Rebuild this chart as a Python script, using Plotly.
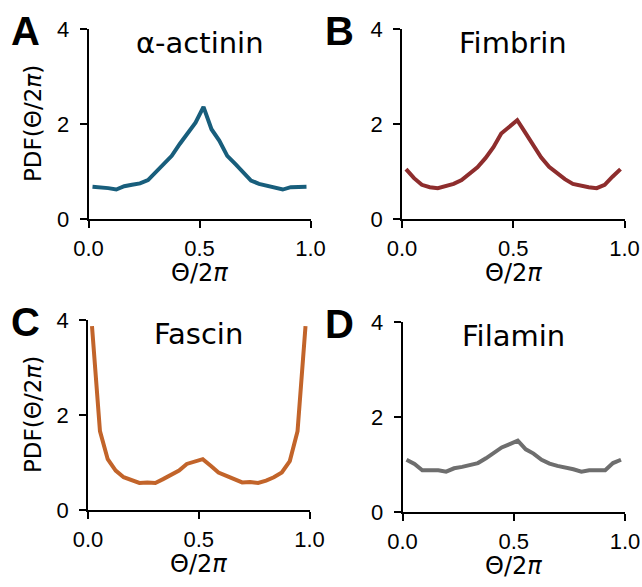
import plotly.graph_objects as go

# bin centres of the angle histogram (Theta / 2pi), 28 bins
theta = [0.018, 0.054, 0.089, 0.125, 0.161, 0.196, 0.232, 0.268, 0.304, 0.339,
         0.375, 0.411, 0.446, 0.482, 0.518, 0.554, 0.589, 0.625, 0.661, 0.696,
         0.732, 0.768, 0.804, 0.839, 0.875, 0.911, 0.946, 0.982]

pdf_actinin = [0.68, 0.67, 0.65, 0.62, 0.69, 0.72, 0.75, 0.82, 1.00, 1.17,
               1.33, 1.58, 1.79, 2.03, 2.36, 1.89, 1.65, 1.33, 1.16, 0.98,
               0.81, 0.74, 0.70, 0.68, 0.62, 0.67, 0.68, 0.68]
pdf_fimbrin = [1.05, 0.86, 0.72, 0.67, 0.65, 0.69, 0.74, 0.82, 0.96, 1.09,
               1.28, 1.51, 1.80, 1.93, 2.08, 1.82, 1.56, 1.30, 1.10, 0.96,
               0.84, 0.74, 0.70, 0.67, 0.65, 0.72, 0.89, 1.05]
pdf_fascin = [3.87, 1.66, 1.07, 0.83, 0.69, 0.62, 0.57, 0.58, 0.57, 0.65,
              0.74, 0.83, 0.97, 1.01, 1.07, 0.93, 0.79, 0.72, 0.65, 0.58,
              0.59, 0.57, 0.62, 0.69, 0.79, 1.03, 1.66, 3.87]
pdf_filamin = [1.10, 1.01, 0.88, 0.88, 0.88, 0.85, 0.92, 0.95, 0.99, 1.03,
               1.13, 1.25, 1.36, 1.43, 1.50, 1.32, 1.23, 1.10, 1.02, 0.97,
               0.94, 0.90, 0.85, 0.88, 0.88, 0.88, 1.03, 1.10]

names = ["α-actinin", "Fimbrin", "Fascin", "Filamin"]
letters = ["A", "B", "C", "D"]
series = [pdf_actinin, pdf_fimbrin, pdf_fascin, pdf_filamin]
colors = ["#185E7C", "#8E2D2D", "#C2642A", "#6E6E6E"]

# figure fills the whole window (body margin is removed below)
W, H = 642, 587

# plot boxes in pixels: left, right, top, bottom
boxes = [(88.5, 310.5, 29, 219), (402, 624.5, 29, 219),
         (88, 309.5, 320, 510), (402.5, 625, 322, 512)]

TICKFONT = dict(family="Liberation Sans", size=22, color="black")
TEXTFONT = "DejaVu Sans"


def px(x):
    return x / W


def py(y):
    return 1 - y / H


fig = go.Figure()
annotations = []
layout = {}

for i, (vals, name, letter, color, box) in enumerate(zip(series, names, letters, colors, boxes)):
    n = "" if i == 0 else str(i + 1)
    x0, x1, yt, yb = box
    fig.add_trace(go.Scatter(
        x=theta, y=vals, mode="lines",
        line=dict(color=color, width=4),
        xaxis="x" + n, yaxis="y" + n, showlegend=False,
    ))
    layout["xaxis" + n] = dict(
        domain=[px(x0), px(x1)], range=[0, 1], anchor="y" + n, automargin=False,
        tickvals=[0, 0.5, 1.0], ticktext=["0.0", "0.5", "1.0"],
        showline=True, linecolor="black", linewidth=1.5, mirror=False,
        ticks="outside", ticklen=7, tickwidth=1.5, tickcolor="black",
        showgrid=False, zeroline=False, tickfont=TICKFONT, ticklabelstandoff=2,
    )
    layout["yaxis" + n] = dict(
        domain=[py(yb), py(yt)], range=[0, 4], anchor="x" + n, automargin=False,
        tickvals=[0, 2, 4], ticktext=["0", "2", "4"],
        showline=True, linecolor="black", linewidth=1.5,
        ticks="outside", ticklen=7, tickwidth=1.5, tickcolor="black",
        showgrid=False, zeroline=False, tickfont=TICKFONT, ticklabelstandoff=6,
    )
    xc = (x0 + x1) / 2
    # panel title
    annotations.append(dict(
        text=name, x=px(xc), y=py(yt + 14), xref="paper", yref="paper",
        xanchor="center", yanchor="middle", showarrow=False,
        font=dict(family=TEXTFONT, size=29, color="black"),
    ))
    # x axis title
    annotations.append(dict(
        text="Θ/2<i>π</i>", x=px(xc), y=py(yb + 54), xref="paper", yref="paper",
        xanchor="center", yanchor="middle", showarrow=False,
        font=dict(family=TEXTFONT, size=24, color="black"),
    ))
    # panel letter
    annotations.append(dict(
        text="<b>" + letter + "</b>", x=px(x0 - 63), y=py(yt + 2),
        xref="paper", yref="paper", xanchor="center", yanchor="middle",
        showarrow=False, font=dict(family="Liberation Sans", size=40, color="black"),
    ))
    # y axis title only on the left column
    if i in (0, 2):
        annotations.append(dict(
            text="PDF(Θ/2<i>π</i>)", x=px(33), y=py((yt + yb) / 2),
            xref="paper", yref="paper", xanchor="center", yanchor="middle",
            textangle=-90, showarrow=False,
            font=dict(family=TEXTFONT, size=23, color="black"),
        ))

fig.update_layout(
    width=W, height=H,
    margin=dict(l=0, r=0, t=0, b=0, autoexpand=False),
    plot_bgcolor="white", paper_bgcolor="white",
    annotations=annotations,
    **layout,
)

fig.write_html("out.html", config={"displayModeBar": False},
               post_script="document.body.style.margin = '0';")
